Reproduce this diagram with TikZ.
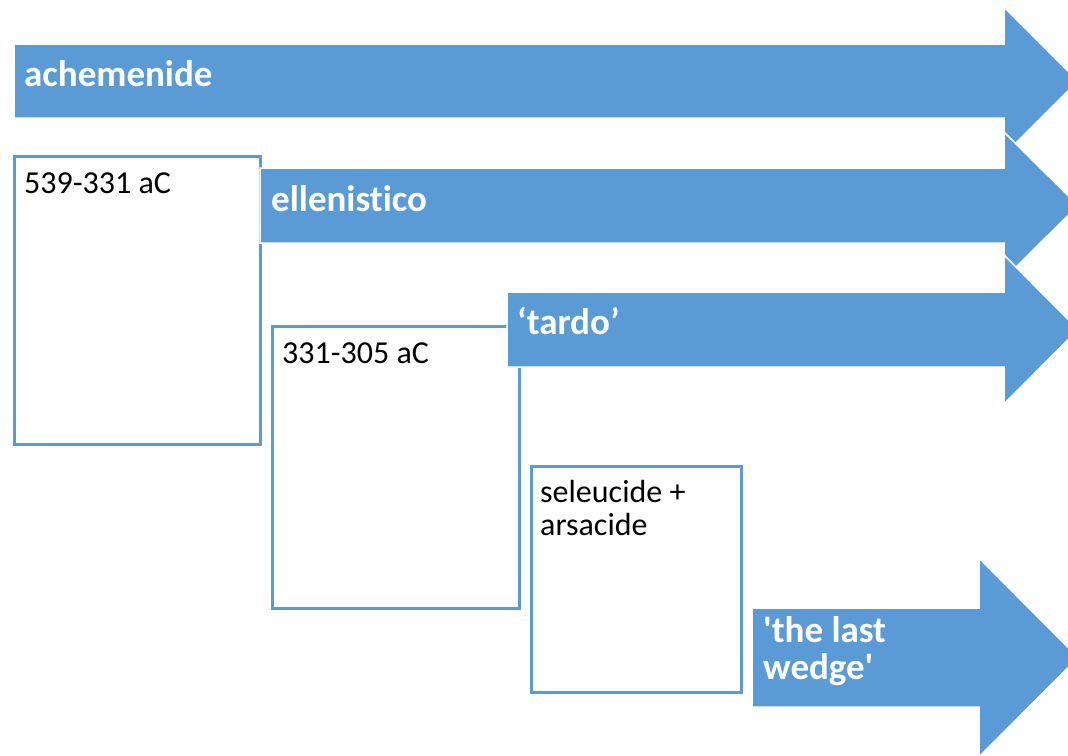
\documentclass[tikz,border=0pt]{standalone}
\usepackage{fontspec}
\setmainfont{Carlito}[Ligatures={TeX,NoCommon}]
\definecolor{eraBlue}{HTML}{5B9BD5}

\tikzset{
  era/.style={fill=eraBlue, draw=white, line width=1.5pt},
  eraText/.style={anchor=base west, inner sep=0pt, text=white, align=left,
    font=\fontsize{37}{37}\selectfont\bfseries},
  dateBox/.style={draw=eraBlue, line width=2.5pt, fill=white, anchor=north west, inner sep=0pt},
  dateText/.style={anchor=base west, inner sep=0pt, align=left,
    font=\fontsize{32}{33}\selectfont},
}

\begin{document}
\begin{tikzpicture}[x=1pt, y=-1pt]
  \useasboundingbox (0,0) rectangle (1068,755);
  \clip (0,0) rectangle (1068,755);

  % achemenide
  \draw[era] (14,44) -- (1004,44) -- (1004,7) -- (1078,81) -- (1004,155) -- (1004,118) -- (14,118) -- cycle;
  \node[eraText] (ache) at (24,86) {achemenide};

  \node[dateBox, minimum width=246pt, minimum height=288pt] (d539) at (13,155) {};
  \node[dateText] (t539) at (24,193) {539-331 aC};

  % ellenistico
  \draw[era] (260,168) -- (1004,168) -- (1004,132) -- (1078,205.5) -- (1004,279) -- (1004,243) -- (260,243) -- cycle;
  \node[eraText] (elle) at (271,211) {ellenistico};

  \node[dateBox, minimum width=247pt, minimum height=282pt] (d331) at (271,325) {};
  \node[dateText] (t331) at (282,363) {331-305 aC};

  % tardo
  \draw[era] (507,292) -- (1004,292) -- (1004,255) -- (1078,329.5) -- (1004,404) -- (1004,367) -- (507,367) -- cycle;
  \node[eraText] (tardo) at (517,334) {‘tardo’};

  \node[dateBox, minimum width=210pt, minimum height=226pt] (dsel) at (530,465) {};
  \node[dateText] (tsel) at (540,535) {seleucide +\\arsacide};

  % the last wedge
  \draw[era] (752,608) -- (979,608) -- (979,558) -- (1078,657.5) -- (979,757) -- (979,707) -- (752,707) -- cycle;
  \node[eraText] (wedge) at (763,679) {\textquotesingle the last\\wedge\textquotesingle};
\end{tikzpicture}
\end{document}
